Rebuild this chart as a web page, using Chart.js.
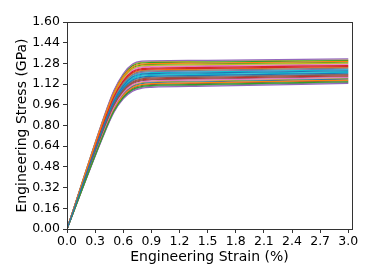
<!DOCTYPE html>
<html>
<head>
<meta charset="utf-8">
<script src="https://cdn.jsdelivr.net/npm/chart.js@4"></script>
<style>
  html, body { margin: 0; padding: 0; background: #fff; }
  #wrap { width: 374px; height: 280px; }
</style>
</head>
<body>
<div id="wrap"><canvas id="myChart" width="374" height="280"></canvas></div>
<script>
// strain points (%) shared by every curve
const strain = [0, 0.4, 0.5, 0.6, 0.7, 0.8, 0.9, 1.5, 3.0];

// stress (GPa) of each curve
const curve01 = [0, 0.812, 0.988, 1.106, 1.174, 1.196, 1.201, 1.207, 1.223];
const curve02 = [0, 0.866, 1.052, 1.180, 1.253, 1.275, 1.279, 1.283, 1.295];
const curve03 = [0, 0.750, 0.912, 1.018, 1.079, 1.102, 1.109, 1.118, 1.138];
const curve04 = [0, 0.841, 1.023, 1.146, 1.217, 1.239, 1.243, 1.249, 1.263];
const curve05 = [0, 0.880, 1.070, 1.200, 1.275, 1.297, 1.300, 1.304, 1.315];
const curve06 = [0, 0.788, 0.959, 1.072, 1.137, 1.160, 1.166, 1.173, 1.191];
const curve07 = [0, 0.774, 0.941, 1.052, 1.116, 1.138, 1.144, 1.152, 1.171];
const curve08 = [0, 0.827, 1.006, 1.126, 1.195, 1.218, 1.222, 1.228, 1.243];
const curve09 = [0, 0.856, 1.041, 1.166, 1.239, 1.261, 1.265, 1.270, 1.282];
const curve10 = [0, 0.817, 0.994, 1.113, 1.181, 1.203, 1.208, 1.214, 1.230];
const curve11 = [0, 0.798, 0.970, 1.086, 1.152, 1.174, 1.180, 1.187, 1.204];
const curve12 = [0, 0.759, 0.923, 1.032, 1.094, 1.117, 1.123, 1.132, 1.151];
const curve13 = [0, 0.870, 1.058, 1.187, 1.261, 1.283, 1.286, 1.290, 1.302];
const curve14 = [0, 0.837, 1.017, 1.139, 1.210, 1.232, 1.236, 1.242, 1.256];
const curve15 = [0, 0.740, 0.900, 1.005, 1.065, 1.088, 1.095, 1.104, 1.125];
const curve16 = [0, 0.779, 0.947, 1.059, 1.123, 1.146, 1.152, 1.159, 1.177];
const curve17 = [0, 0.851, 1.035, 1.160, 1.232, 1.254, 1.258, 1.263, 1.276];
const curve18 = [0, 0.745, 0.906, 1.012, 1.072, 1.095, 1.102, 1.111, 1.132];
const curve19 = [0, 0.875, 1.064, 1.193, 1.268, 1.290, 1.293, 1.297, 1.308];
const curve20 = [0, 0.803, 0.976, 1.092, 1.159, 1.182, 1.187, 1.194, 1.210];
const curve21 = [0, 0.764, 0.929, 1.039, 1.101, 1.124, 1.130, 1.138, 1.158];
const curve22 = [0, 0.832, 1.011, 1.133, 1.203, 1.225, 1.229, 1.235, 1.249];
const curve23 = [0, 0.861, 1.047, 1.173, 1.246, 1.268, 1.272, 1.276, 1.289];
const curve24 = [0, 0.783, 0.953, 1.066, 1.130, 1.153, 1.159, 1.166, 1.184];
const curve25 = [0, 0.822, 1.000, 1.119, 1.188, 1.211, 1.215, 1.221, 1.236];
const curve26 = [0, 0.754, 0.918, 1.025, 1.087, 1.110, 1.116, 1.125, 1.145];
const curve27 = [0, 0.846, 1.029, 1.153, 1.224, 1.247, 1.251, 1.256, 1.269];
const curve28 = [0, 0.793, 0.964, 1.079, 1.145, 1.167, 1.173, 1.180, 1.197];
const curve29 = [0, 0.769, 0.935, 1.045, 1.108, 1.131, 1.137, 1.145, 1.164];
const curve30 = [0, 0.808, 0.982, 1.099, 1.166, 1.189, 1.194, 1.201, 1.217];

const curves = [curve01, curve02, curve03, curve04, curve05, curve06, curve07, curve08, curve09, curve10,
                curve11, curve12, curve13, curve14, curve15, curve16, curve17, curve18, curve19, curve20,
                curve21, curve22, curve23, curve24, curve25, curve26, curve27, curve28, curve29, curve30];

const xTicks = [0, 0.3, 0.6, 0.9, 1.2, 1.5, 1.8, 2.1, 2.4, 2.7, 3.0];
const yTicks = [0, 0.16, 0.32, 0.48, 0.64, 0.80, 0.96, 1.12, 1.28, 1.44, 1.60];

// matplotlib default colour cycle
const palette = ['#1f77b4', '#ff7f0e', '#2ca02c', '#d62728', '#9467bd',
                 '#8c564b', '#e377c2', '#7f7f7f', '#bcbd22', '#17becf'];

const fontFamily = '"DejaVu Sans", sans-serif';

// full box around the axes, like matplotlib spines
const frame = {
    id: 'frame',
    afterDraw(chart) {
        const a = chart.chartArea;
        const ctx = chart.ctx;
        ctx.save();
        ctx.strokeStyle = '#333';
        ctx.lineWidth = 1;
        ctx.strokeRect(Math.round(a.left) + 0.5, Math.round(a.top) + 0.5,
                       Math.round(a.right - a.left), Math.round(a.bottom - a.top));
        ctx.restore();
    }
};

document.addEventListener('DOMContentLoaded', function () {
    const ctx = document.getElementById('myChart').getContext('2d');

    const datasets = curves.map(function (c, i) {
        return {
            data: c.map(function (v, j) { return { x: strain[j], y: v }; }),
            borderColor: palette[i % palette.length],
            borderWidth: 1.2,
            pointRadius: 0,
            fill: false,
            cubicInterpolationMode: 'monotone'
        };
    });

    new Chart(ctx, {
        type: 'line',
        data: { datasets: datasets },
        plugins: [frame],
        options: {
            responsive: false,
            animation: false,
            layout: { padding: { top: 22, right: 22, left: 0, bottom: 0 } },
            plugins: {
                legend: { display: false },
                tooltip: { enabled: false }
            },
            scales: {
                x: {
                    type: 'linear',
                    min: 0,
                    max: 3.04,
                    afterFit: function (scale) { scale.height = 51; },
                    afterBuildTicks: function (scale) {
                        scale.ticks = xTicks.map(function (v) { return { value: v }; });
                    },
                    grid: { drawOnChartArea: false, drawTicks: true, tickLength: 4, color: '#333' },
                    border: { display: true, color: '#333' },
                    ticks: {
                        color: '#000',
                        padding: 1,
                        maxRotation: 0,
                        autoSkip: false,
                        font: { family: fontFamily, size: 12.5 },
                        callback: function (v) { return Number(v).toFixed(1); }
                    },
                    title: {
                        display: true,
                        text: 'Engineering Strain (%)',
                        color: '#000',
                        font: { family: fontFamily, size: 14 },
                        padding: { top: 0, bottom: 14.5 }
                    }
                },
                y: {
                    type: 'linear',
                    min: 0,
                    max: 1.6,
                    afterFit: function (scale) { scale.width = 67; },
                    afterBuildTicks: function (scale) {
                        scale.ticks = yTicks.map(function (v) { return { value: v }; });
                    },
                    grid: { drawOnChartArea: false, drawTicks: true, tickLength: 4, color: '#333' },
                    border: { display: true, color: '#333' },
                    ticks: {
                        color: '#000',
                        padding: 3,
                        autoSkip: false,
                        font: { family: fontFamily, size: 12.5 },
                        callback: function (v) { return Number(v).toFixed(2); }
                    },
                    title: {
                        display: true,
                        text: 'Engineering Stress (GPa)',
                        color: '#000',
                        font: { family: fontFamily, size: 14 },
                        padding: { top: 13.5, bottom: 0 }
                    }
                }
            }
        }
    });
});
</script>
</body>
</html>
